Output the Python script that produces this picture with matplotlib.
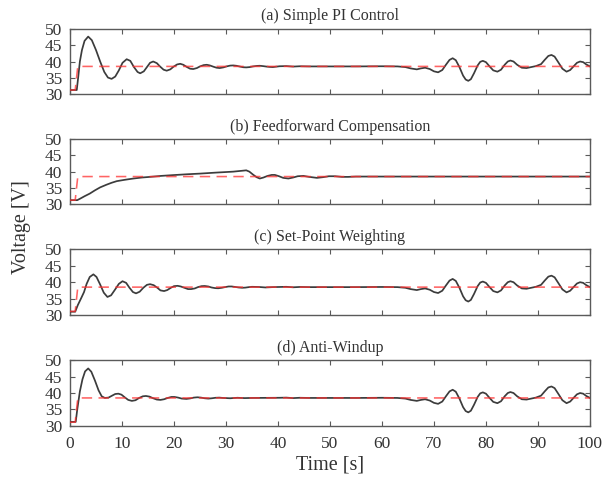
import matplotlib
matplotlib.use("Agg")
import matplotlib.pyplot as plt

plt.rcParams['font.family'] = ['Liberation Serif', 'DejaVu Serif']

# ---- measured voltage responses (time [s], voltage [V]) ----
# shared load-disturbance response after t = 63 s
tail_t = [40.3, 41.6, 42.9, 44.2, 46, 50, 55, 60, 63, 64.5, 65.5, 66.7, 67.5, 68.3,
          69.2, 70.0, 70.8, 71.6, 72.3, 73.0, 73.6, 74.2, 74.9, 75.6, 76.1, 76.6,
          77.1, 77.7, 78.4, 78.9, 79.4, 80.0, 80.7, 81.4, 82.2, 82.9, 83.6, 84.2,
          84.7, 85.3, 86.0, 86.9, 87.8, 88.7, 89.6, 90.6, 91.3, 92.0, 92.6, 93.2,
          93.9, 94.7, 95.5, 96.2, 96.9, 97.5, 98.1, 98.7, 99.3, 100]
tail_v = [38.55, 38.6, 38.45, 38.55, 38.5, 38.5, 38.5, 38.55, 38.5, 38.3, 37.9, 37.6,
          37.9, 38.1, 37.7, 37.0, 36.7, 37.4, 39.0, 40.5, 41.0, 40.4, 38.3, 35.7,
          34.5, 34.1, 34.6, 36.4, 38.8, 39.9, 40.2, 39.8, 38.5, 37.3, 36.9, 37.5,
          39.0, 40.0, 40.3, 40.0, 39.0, 38.1, 38.0, 38.3, 38.6, 39.2, 40.5, 41.7,
          42.0, 41.5, 39.8, 37.8, 36.9, 37.4, 38.6, 39.6, 40.0, 39.8, 39.1, 38.5]

# (a) simple PI control, start-up transient
pi_t = [0, 1.3, 1.6, 1.9, 2.3, 2.8, 3.5, 4.2, 5.0, 5.8, 6.6, 7.3, 8.0, 8.7, 9.4,
        10.1, 10.9, 11.6, 12.3, 13.0, 13.5, 14.2, 14.8, 15.4, 16.0, 16.7, 17.3,
        18.0, 18.6, 19.3, 19.9, 20.6, 21.2, 21.8, 22.5, 23.1, 23.7, 24.4, 25.0,
        25.7, 26.3, 26.9, 27.6, 28.2, 28.8, 29.5, 30.1, 30.8, 31.4, 32.0, 32.7,
        33.3, 33.9, 34.6, 35.2, 35.9, 36.5, 37.1, 37.8, 38.4, 39.0]
pi_v = [31.3, 31.3, 35.5, 40.0, 43.5, 46.3, 47.6, 46.5, 43.5, 40.0, 36.8, 35.1,
        34.7, 35.4, 37.3, 39.6, 40.7, 40.2, 38.3, 36.8, 36.4, 37.0, 38.3, 39.6,
        40.0, 39.5, 38.5, 37.5, 37.2, 37.6, 38.4, 39.1, 39.3, 39.0, 38.3, 37.8,
        37.7, 38.0, 38.5, 38.9, 39.0, 38.8, 38.4, 38.1, 38.0, 38.2, 38.5, 38.75,
        38.8, 38.7, 38.45, 38.25, 38.2, 38.3, 38.5, 38.65, 38.7, 38.6, 38.45,
        38.35, 38.3]

# (b) feedforward compensation (whole run)
ff_t = [0, 1.4, 2.0, 2.8, 3.8, 4.8, 5.8, 7.0, 8.0, 9.0, 10.5, 12.2, 13.8, 15.4,
        17.5, 19.9, 22.5, 25.0, 28.0, 31.4, 33.3, 33.9, 34.5, 35.2, 35.9, 36.5,
        37.2, 38.0, 38.8, 39.4, 40.2, 41.0, 42.0, 42.9, 43.8, 44.9, 46.0, 47.5,
        48.6, 49.8, 51.0, 52.3, 53.5, 55, 60, 70, 80, 90, 100]
ff_v = [31.3, 31.3, 31.8, 32.5, 33.3, 34.3, 35.2, 36.0, 36.6, 37.1, 37.5, 37.9,
        38.2, 38.4, 38.7, 38.95, 39.2, 39.4, 39.7, 40.0, 40.3, 40.4, 40.0, 39.1,
        38.3, 37.9, 38.2, 38.7, 39.0, 39.0, 38.6, 38.1, 37.9, 38.2, 38.6, 38.7,
        38.4, 38.1, 38.3, 38.6, 38.6, 38.4, 38.4, 38.5, 38.5, 38.5, 38.5, 38.5,
        38.5]

# (c) set-point weighting, start-up transient
spw_t = [0, 1.0, 1.5, 2.2, 2.7, 3.2, 3.8, 4.5, 5.1, 5.8, 6.5, 7.2, 7.9, 8.6, 9.4,
         10.1, 10.8, 11.4, 12.1, 12.7, 13.4, 14.1, 14.8, 15.4, 16.1, 16.8, 17.4,
         18.1, 18.7, 19.4, 20.0, 20.7, 21.3, 22.0, 22.7, 23.3, 24.0, 24.6, 25.3,
         25.9, 26.6, 27.2, 27.9, 28.5, 29.2, 29.8, 30.5, 31.1, 31.8, 32.4, 33.1,
         33.7, 34.4, 35.0, 36.3, 37.6, 38.9]
spw_v = [31.0, 31.0, 33.0, 35.3, 37.0, 39.5, 41.6, 42.4, 41.6, 39.3, 36.8, 35.5,
         36.0, 37.6, 39.5, 40.3, 39.8, 38.4, 37.0, 36.6, 37.1, 38.3, 39.2, 39.4,
         39.1, 38.3, 37.5, 37.3, 37.6, 38.3, 38.8, 38.9, 38.7, 38.3, 37.9, 37.9,
         38.1, 38.5, 38.8, 38.85, 38.7, 38.4, 38.2, 38.15, 38.3, 38.5, 38.7, 38.7,
         38.55, 38.4, 38.3, 38.35, 38.5, 38.6, 38.55, 38.4, 38.5]

# (d) anti-windup, start-up transient
aw_t = [0, 1.1, 1.4, 1.9, 2.4, 2.9, 3.5, 4.1, 4.8, 5.5, 6.1, 6.7, 7.4, 8.1, 8.7,
        9.3, 9.9, 10.6, 11.2, 11.9, 12.6, 13.3, 14.0, 14.6, 15.3, 16.0, 16.7,
        17.4, 18.1, 18.8, 19.5, 20.1, 20.8, 21.5, 22.4, 23.1, 23.8, 24.5, 25.2,
        25.9, 26.6, 27.3, 28.0, 28.7, 29.4, 30.8, 32.2, 33.6, 35.0]
aw_v = [31.2, 31.2, 35.0, 40.5, 44.2, 46.6, 47.5, 46.5, 43.8, 40.8, 39.0, 38.5,
        38.6, 39.2, 39.7, 39.8, 39.5, 38.6, 37.9, 37.6, 37.8, 38.5, 39.0, 39.1,
        38.9, 38.4, 38.0, 37.9, 38.1, 38.5, 38.8, 38.8, 38.6, 38.3, 38.2, 38.35,
        38.6, 38.7, 38.6, 38.4, 38.3, 38.4, 38.55, 38.6, 38.5, 38.4, 38.55, 38.45,
        38.5]

# voltage reference (set-point step)
ref_t = [0, 1.0, 1.5, 100]
ref_v_ab = [31.3, 31.3, 38.5, 38.5]
ref_v_cd = [31.1, 31.1, 38.5, 38.5]

titles = ["(a) Simple PI Control", "(b) Feedforward Compensation",
          "(c) Set-Point Weighting", "(d) Anti-Windup"]
xticks = [0, 10, 20, 30, 40, 50, 60, 70, 80, 90, 100]
yticks = [30, 35, 40, 45, 50]

series = [
    (pi_t + tail_t, pi_v + tail_v, ref_v_ab),
    (ff_t, ff_v, ref_v_ab),
    (spw_t + tail_t, spw_v + tail_v, ref_v_cd),
    (aw_t + tail_t, aw_v + tail_v, ref_v_cd),
]

fig = plt.figure(figsize=(6.06, 4.82), dpi=100)
left, width, height = 0.1155, 0.858, 0.136
bottoms = [0.8044, 0.5759, 0.3465, 0.1166]

txt = '#333333'
frame = '#5a5a5a'
for i, ((t, v, rv), title, b) in enumerate(zip(series, titles, bottoms)):
    ax = fig.add_axes([left, b, width, height])
    ax.plot(t, v, color='#3c3c3c', lw=1.25, zorder=3)
    ax.plot(ref_t, rv, color='#ff3030', lw=1.15, dashes=(6.5, 4), alpha=0.75, zorder=4)
    ax.set_xlim(0, 100)
    ax.set_ylim(30, 50)
    ax.set_xticks(xticks)
    ax.set_yticks(yticks)
    ax.tick_params(direction='in', top=True, right=True, length=3.5, width=0.8,
                   color=frame, labelsize=12.5, labelcolor=txt)
    ax.tick_params(axis='y', pad=5.5)
    ax.tick_params(axis='x', pad=7)
    if i < 3:
        ax.tick_params(labelbottom=False)
    for s in ax.spines.values():
        s.set_color(frame)
        s.set_linewidth(1.0)
    ax.set_title(title, fontsize=11.5, color=txt, pad=6)
    if i == 3:
        ax.set_xlabel("Time [s]", fontsize=14.5, color=txt, labelpad=3)

fig.text(0.036, 0.528, "Voltage [V]", rotation=90, fontsize=14.5, color=txt,
         ha='center', va='center')

fig.savefig("out.png", dpi=100)
